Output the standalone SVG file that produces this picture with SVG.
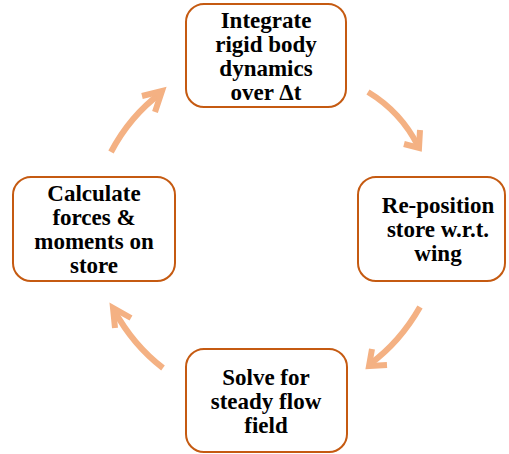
<svg xmlns="http://www.w3.org/2000/svg" width="509" height="454" viewBox="0 0 509 454">
<style>
.box{fill:#fff;stroke:#C55A11;stroke-width:2}
.t{font-family:'Liberation Serif','Times New Roman','DejaVu Serif',serif;font-weight:bold;font-size:23px;fill:#000;text-anchor:middle}
.c{fill:none;stroke:#F4B183;stroke-width:6;stroke-linejoin:miter}
</style>
<rect width="509" height="454" fill="#fff"/>
<g id="connectors">
<path class="c" d="M368,92 Q401,112 418,146"/>
<polyline class="c" points="404,144 419,148 420,130"/>
<path class="c" d="M420,307 Q400,342 370,364"/>
<polyline class="c" points="372,349 369,366 387,365"/>
<path class="c" d="M163,368 Q133,345 114,310"/>
<polyline class="c" points="115,328 113,308 131,318"/>
<path class="c" d="M111,152 Q130,116 161,93"/>
<polyline class="c" points="142,96 162,91 155,112"/>
</g>
<g id="integrate">
<rect class="box" x="186" y="4" width="160" height="103" rx="18"/>
<text class="t" x="266" y="28">Integrate</text>
<text class="t" x="266" y="52">rigid body</text>
<text class="t" x="266" y="76">dynamics</text>
<text class="t" x="266" y="100">over Δt</text>
</g>
<g id="reposition">
<rect class="box" x="358" y="177" width="147" height="104" rx="18"/>
<text class="t" x="438" y="213">Re-position</text>
<text class="t" x="438" y="237">store w.r.t.</text>
<text class="t" x="438" y="261">wing</text>
</g>
<g id="solve">
<rect class="box" x="186" y="349" width="161" height="103" rx="18"/>
<text class="t" x="266" y="385">Solve for</text>
<text class="t" x="266" y="409">steady flow</text>
<text class="t" x="266" y="433">field</text>
</g>
<g id="calculate">
<rect class="box" x="13" y="177" width="162" height="104" rx="18"/>
<text class="t" x="94" y="201">Calculate</text>
<text class="t" x="94" y="225">forces &amp;</text>
<text class="t" x="94" y="249">moments on</text>
<text class="t" x="94" y="273">store</text>
</g>
</svg>
